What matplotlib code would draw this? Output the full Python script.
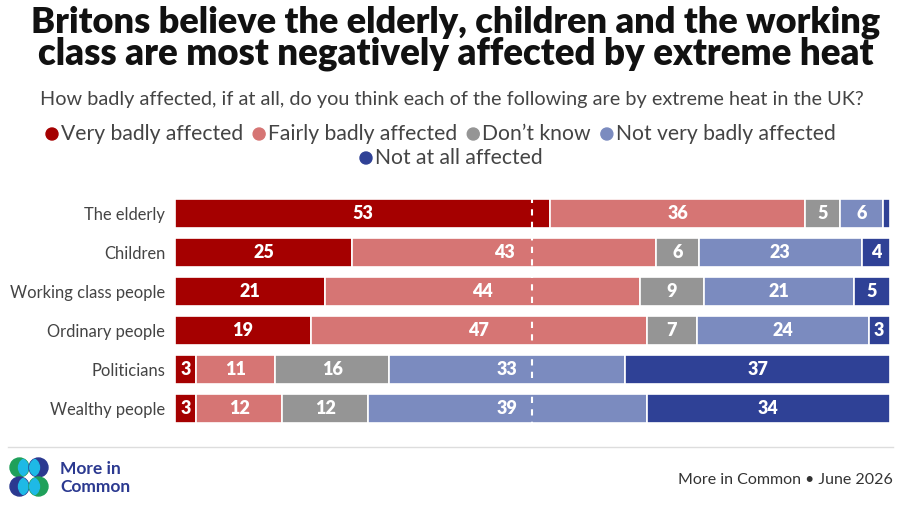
import matplotlib
matplotlib.use("Agg")
import matplotlib.pyplot as plt
from matplotlib.patches import Circle
import numpy as np

categories = ["The elderly", "Children", "Working class people", "Ordinary people", "Politicians", "Wealthy people"]
series_names = ["Very badly affected", "Fairly badly affected", "Don\u2019t know", "Not very badly affected", "Not at all affected"]
very_badly = [53, 25, 21, 19, 3, 3]
fairly_badly = [36, 43, 44, 47, 11, 12]
dont_know = [5, 6, 9, 7, 16, 12]
not_very = [6, 23, 21, 24, 33, 39]
not_at_all = [1, 4, 5, 3, 37, 34]
colors = ["#A50000", "#D67574", "#959595", "#7B8BBF", "#2F4196"]

FONT = "Lato"
W, H = 904, 514
fig = plt.figure(figsize=(W / 100, H / 100), dpi=100)

def fx(x):
    return x / W

def fy(y):
    return 1 - y / H

# Title
fig.text(fx(456), fy(22), "Britons believe the elderly, children and the working", ha="center", va="center",
         fontsize=26, fontweight="heavy", family=FONT, color="#111111")
fig.text(fx(456), fy(54), "class are most negatively affected by extreme heat", ha="center", va="center",
         fontsize=26.4, fontweight="heavy", family=FONT, color="#111111")
fig.text(fx(452), fy(100), "How badly affected, if at all, do you think each of the following are by extreme heat in the UK?",
         ha="center", va="center", fontsize=14.3, family=FONT, color="#444444")

# Legend
renderer = fig.canvas.get_renderer()

def legend_row(items, y, start_x):
    x = start_x
    for name, col in items:
        c = Circle((x + 6, H - y), 6, color=col)
        c.set_transform(matplotlib.transforms.IdentityTransform())
        fig.patches.append(c)
        t = fig.text(fx(x + 15), fy(y), name, ha="left", va="center", fontsize=15.2, family=FONT, color="#444444")
        bb = t.get_window_extent(renderer=renderer)
        x = x + 15 + bb.width + 10

row1 = list(zip(series_names[:4], colors[:4]))
row2 = list(zip(series_names[4:], colors[4:]))
legend_row(row1, 134, 46)
legend_row(row2, 158, 360)

# Bars
ax = fig.add_axes([fx(175), fy(428), fx(890) - fx(175), (428 - 194) / H])
data = np.array([very_badly, fairly_badly, dont_know, not_very, not_at_all], dtype=float)
totals = data.sum(axis=0)
shares = data / totals * 100
y = np.arange(len(categories))
left = np.zeros(len(categories))
for i in range(len(series_names)):
    ax.barh(y, shares[i], left=left, height=0.74, color=colors[i], edgecolor="white", linewidth=1.2)
    for j in range(len(categories)):
        if data[i, j] >= 2:
            ax.text(left[j] + shares[i, j] / 2, y[j], f"{int(data[i, j])}", ha="center", va="center",
                    color="white", fontsize=13, fontweight="heavy", family=FONT)
    left += shares[i]
ax.axvline(50, color="white", linestyle=(0, (3, 3)), linewidth=1.5)
ax.set_xlim(0, 100)
ax.set_ylim(len(categories) - 0.5, -0.5)
ax.set_yticks(y)
ax.set_yticklabels(categories, family=FONT, fontsize=11.9, color="#444444")
ax.tick_params(axis="y", length=0, pad=7)
ax.set_xticks([])
for s in ax.spines.values():
    s.set_visible(False)

# Footer
fig.add_artist(plt.Line2D([fx(8), fx(893)], [fy(447), fy(447)], color="#dddddd", linewidth=1))
fig.text(fx(893), fy(480), "More in Common \u2022 June 2026", ha="right", va="center", fontsize=11.5,
         family=FONT, color="#333333")

# Logo
lax = fig.add_axes([fx(8), fy(498), fx(42), 42 / H])
lax.set_xlim(8, 50)
lax.set_ylim(498, 456)
lax.set_aspect("equal")
lax.axis("off")
cyan = "#1EB9E6"
green = "#1FA05A"
navy = "#2B3990"
specs = [((19.5, 467.5), green, 1), ((38.5, 467.5), navy, -1), ((19.5, 486.5), navy, 1), ((38.5, 486.5), green, -1)]
for (cx, cy), col, dx in specs:
    base = Circle((cx, cy), 9.5, color=col)
    lax.add_patch(base)
    inner = Circle((cx + dx * 8.5, cy), 9.5, color=cyan)
    lax.add_patch(inner)
    inner.set_clip_path(base)
fig.text(fx(60), fy(469), "More in", ha="left", va="center", fontsize=12.5, fontweight="bold", family=FONT, color=navy)
fig.text(fx(60), fy(487), "Common", ha="left", va="center", fontsize=12.5, fontweight="bold", family=FONT, color=navy)

fig.savefig("out.png", dpi=100)
